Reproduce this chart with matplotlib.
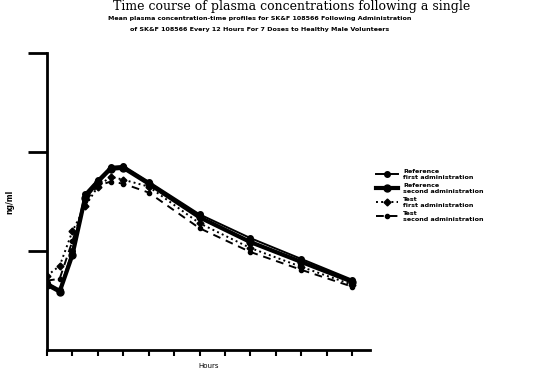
import matplotlib
matplotlib.use("Agg")
import matplotlib.pyplot as plt

# Sampling times (hours) and mean plasma concentrations (ng/ml)
hours = [0, 1, 2, 3, 4, 5, 6, 8, 12, 16, 20, 24]
ref_first = [68, 61, 100, 158, 172, 185, 186, 170, 137, 113, 92, 71]
ref_second = [66, 59, 96, 154, 170, 183, 184, 168, 134, 109, 89, 69]
test_first = [75, 85, 120, 145, 165, 175, 172, 165, 128, 103, 84, 66]
test_second = [70, 72, 110, 150, 166, 170, 168, 159, 123, 99, 81, 64]

y_ticks = [100, 200, 300]
x_ticks = list(range(0, 25, 2))

fig = plt.figure(figsize=(5.4, 3.7), dpi=100)

fig.text(0.54, 0.999, "Time course of plasma concentrations following a single",
         family="DejaVu Serif", fontsize=9, ha="center", va="top")
fig.text(0.48, 0.950,
         "Mean plasma concentration-time profiles for SK&F 108566 Following Administration",
         fontsize=4.6, fontweight="bold", ha="center", va="center")
fig.text(0.48, 0.920,
         "of SK&F 108566 Every 12 Hours For 7 Doses to Healthy Male Volunteers",
         fontsize=4.6, fontweight="bold", ha="center", va="center")

ax = fig.add_axes([0.087, 0.054, 0.598, 0.803])

ax.plot(hours, ref_first, color="black", lw=1.4, marker="o", ms=4,
        label="Reference\nfirst administration")
ax.plot(hours, ref_second, color="black", lw=3.0, marker="o", ms=5,
        label="Reference\nsecond administration")
ax.plot(hours, test_first, color="black", lw=1.4, ls=":", marker="D", ms=3.5,
        label="Test\nfirst administration")
ax.plot(hours, test_second, color="black", lw=1.4, ls=(0, (4, 3)), marker="o", ms=3,
        label="Test\nsecond administration")

ax.set_xlim(0, 25.4)
ax.set_ylim(0, 300)
for side in ("top", "right"):
    ax.spines[side].set_visible(False)
for side in ("left", "bottom"):
    ax.spines[side].set_linewidth(2)
ax.set_yticks(y_ticks)
ax.set_yticklabels([])
ax.tick_params(axis="y", direction="out", length=14, width=2)
ax.set_xticks(x_ticks)
ax.set_xticklabels([])
ax.tick_params(axis="x", direction="out", length=4, width=1.5)
ax.set_ylabel("ng/ml", fontsize=5.5, fontweight="bold", labelpad=6)
ax.set_xlabel("Hours", fontsize=5, labelpad=2)

ax.legend(loc="center left", bbox_to_anchor=(1.0, 0.52), frameon=False,
          handlelength=3.5, labelspacing=0.5,
          prop={"weight": "bold", "size": 4.6})

fig.savefig("out.png", dpi=100)
